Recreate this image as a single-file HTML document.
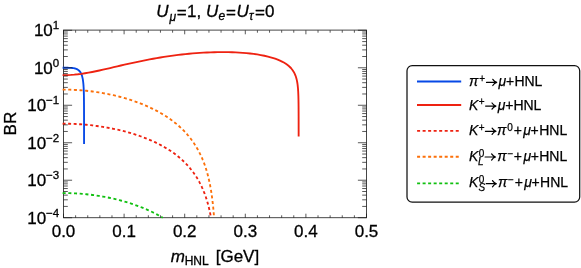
<!DOCTYPE html>
<html><head><meta charset="utf-8"><title>BR plot</title>
<style>html,body{margin:0;padding:0;background:#fff}svg{display:block;will-change:transform;transform:translateZ(0)}</style></head>
<body>
<svg width="581" height="268" viewBox="0 0 581 268">
<rect width="581" height="268" fill="#fff"/>
<rect x="63.5" y="30.1" width="303.00" height="187.60" fill="none" stroke="#333" stroke-width="0.9"/>
<g fill="none" stroke-linejoin="round">
<path d="M62.60 193.07 L63.50 193.07 L65.57 193.08 L67.65 193.11 L69.72 193.16 L71.80 193.23 L73.87 193.32 L75.94 193.43 L78.02 193.55 L80.09 193.70 L82.16 193.87 L84.24 194.05 L86.31 194.25 L88.39 194.48 L90.46 194.72 L92.53 194.98 L94.61 195.26 L96.68 195.56 L98.75 195.88 L100.83 196.22 L102.90 196.58 L104.98 196.95 L107.05 197.35 L109.12 197.77 L111.20 198.21 L113.27 198.67 L115.35 199.16 L117.42 199.66 L119.49 200.19 L121.57 200.74 L123.64 201.31 L125.71 201.91 L127.79 202.53 L129.86 203.18 L131.94 203.86 L134.01 204.56 L136.08 205.28 L138.16 206.04 L140.23 206.83 L142.31 207.65 L144.38 208.50 L146.45 209.38 L148.53 210.30 L150.60 211.26 L152.67 212.26 L154.75 213.30 L156.82 214.38 L158.90 215.50 L160.97 216.68 L162.69 217.70" stroke="#10c010" stroke-width="1.85" stroke-dasharray="3.063 2.634"/>
<path d="M62.60 89.61 L63.50 89.61 L65.57 89.62 L67.65 89.65 L69.72 89.70 L71.80 89.77 L73.87 89.86 L75.94 89.97 L78.02 90.09 L80.09 90.24 L82.16 90.40 L84.24 90.59 L86.31 90.79 L88.39 91.02 L90.46 91.26 L92.53 91.52 L94.61 91.80 L96.68 92.10 L98.75 92.42 L100.83 92.76 L102.90 93.12 L104.98 93.49 L107.05 93.89 L109.12 94.31 L111.20 94.75 L113.27 95.21 L115.35 95.70 L117.42 96.20 L119.49 96.73 L121.57 97.28 L123.64 97.85 L125.71 98.45 L127.79 99.07 L129.86 99.72 L131.94 100.39 L134.01 101.10 L136.08 101.82 L138.16 102.58 L140.23 103.37 L142.31 104.19 L144.38 105.04 L146.45 105.92 L148.53 106.84 L150.60 107.80 L152.67 108.80 L154.75 109.84 L156.82 110.92 L158.90 112.04 L160.97 113.22 L163.04 114.45 L165.12 115.73 L167.19 117.08 L169.26 118.48 L171.34 119.96 L173.41 121.51 L175.49 123.15 L177.56 124.87 L179.63 126.70 L181.71 128.63 L183.78 130.69 L185.86 132.88 L186.01 133.05 L186.16 133.22 L186.32 133.39 L186.47 133.56 L186.62 133.74 L186.78 133.91 L186.93 134.08 L187.08 134.26 L187.24 134.43 L187.39 134.61 L187.55 134.79 L187.70 134.97 L187.85 135.15 L188.01 135.33 L188.16 135.51 L188.31 135.69 L188.47 135.87 L188.62 136.06 L188.78 136.24 L188.93 136.43 L189.08 136.62 L189.24 136.81 L189.39 137.00 L189.54 137.19 L189.70 137.38 L189.85 137.57 L190.01 137.77 L190.16 137.96 L190.31 138.16 L190.47 138.36 L190.62 138.56 L190.77 138.76 L190.93 138.96 L191.08 139.16 L191.24 139.37 L191.39 139.57 L191.54 139.78 L191.70 139.98 L191.85 140.19 L192.00 140.40 L192.16 140.61 L192.31 140.83 L192.46 141.04 L192.62 141.26 L192.77 141.47 L192.93 141.69 L193.08 141.91 L193.23 142.13 L193.39 142.36 L193.54 142.58 L193.69 142.81 L193.85 143.03 L194.00 143.26 L194.16 143.49 L194.31 143.72 L194.46 143.96 L194.62 144.19 L194.77 144.43 L194.92 144.67 L195.08 144.91 L195.23 145.15 L195.39 145.39 L195.54 145.64 L195.69 145.89 L195.85 146.13 L196.00 146.39 L196.15 146.64 L196.31 146.89 L196.46 147.15 L196.62 147.41 L196.77 147.67 L196.92 147.93 L197.08 148.20 L197.23 148.46 L197.38 148.73 L197.54 149.00 L197.69 149.28 L197.84 149.55 L198.00 149.83 L198.15 150.11 L198.31 150.39 L198.46 150.68 L198.61 150.96 L198.77 151.25 L198.92 151.54 L199.07 151.84 L199.23 152.14 L199.38 152.44 L199.54 152.74 L199.69 153.04 L199.84 153.35 L200.00 153.66 L200.15 153.98 L200.30 154.29 L200.46 154.61 L200.61 154.93 L200.77 155.26 L200.92 155.59 L201.07 155.92 L201.23 156.26 L201.38 156.60 L201.53 156.94 L201.69 157.28 L201.84 157.63 L202.00 157.99 L202.15 158.34 L202.30 158.70 L202.46 159.07 L202.61 159.44 L202.76 159.81 L202.92 160.18 L203.07 160.56 L203.22 160.95 L203.38 161.34 L203.53 161.73 L203.69 162.13 L203.84 162.54 L203.99 162.94 L204.15 163.36 L204.30 163.78 L204.45 164.20 L204.61 164.63 L204.76 165.06 L204.92 165.50 L205.07 165.95 L205.22 166.40 L205.38 166.86 L205.53 167.32 L205.68 167.80 L205.84 168.27 L205.99 168.76 L206.15 169.25 L206.30 169.75 L206.45 170.26 L206.61 170.77 L206.76 171.29 L206.91 171.82 L207.07 172.36 L207.22 172.91 L207.38 173.47 L207.53 174.03 L207.68 174.61 L207.84 175.19 L207.99 175.79 L208.14 176.40 L208.30 177.02 L208.45 177.65 L208.60 178.29 L208.76 178.94 L208.91 179.61 L209.07 180.29 L209.22 180.99 L209.37 181.70 L209.53 182.42 L209.68 183.17 L209.83 183.93 L209.99 184.70 L210.14 185.50 L210.30 186.31 L210.45 187.15 L210.60 188.00 L210.76 188.88 L210.91 189.78 L211.06 190.71 L211.22 191.67 L211.37 192.65 L211.53 193.66 L211.68 194.71 L211.83 195.78 L211.99 196.90 L212.14 198.05 L212.29 199.25 L212.45 200.49 L212.60 201.77 L212.75 203.11 L212.91 204.51 L213.06 205.97 L213.22 207.49 L213.37 209.09 L213.52 210.77 L213.68 212.55 L213.83 214.42 L213.98 216.40 L214.08 217.70" stroke="#fc700a" stroke-width="1.85" stroke-dasharray="3.030 2.606"/>
<path d="M62.60 123.71 L63.50 123.71 L65.58 123.71 L67.66 123.74 L69.74 123.79 L71.82 123.85 L73.90 123.93 L75.98 124.03 L78.05 124.14 L80.13 124.28 L82.21 124.43 L84.29 124.59 L86.37 124.78 L88.45 124.98 L90.53 125.20 L92.61 125.44 L94.69 125.69 L96.77 125.97 L98.85 126.26 L100.93 126.56 L103.01 126.89 L105.08 127.23 L107.16 127.60 L109.24 127.98 L111.32 128.38 L113.40 128.80 L115.48 129.24 L117.56 129.70 L119.64 130.18 L121.72 130.68 L123.80 131.20 L125.88 131.75 L127.96 132.32 L130.04 132.91 L132.11 133.53 L134.19 134.17 L136.27 134.83 L138.35 135.53 L140.43 136.25 L142.51 137.00 L144.59 137.79 L146.67 138.60 L148.75 139.45 L150.83 140.33 L152.91 141.25 L154.99 142.21 L157.07 143.22 L159.14 144.26 L161.22 145.36 L163.30 146.50 L165.38 147.70 L167.46 148.95 L169.54 150.27 L171.62 151.66 L173.70 153.11 L175.78 154.65 L177.86 156.28 L179.94 158.01 L182.02 159.84 L184.10 161.79 L186.17 163.88 L186.33 164.05 L186.48 164.21 L186.64 164.37 L186.79 164.53 L186.95 164.70 L187.10 164.86 L187.25 165.03 L187.41 165.20 L187.56 165.36 L187.72 165.53 L187.87 165.70 L188.02 165.87 L188.18 166.05 L188.33 166.22 L188.49 166.39 L188.64 166.57 L188.79 166.74 L188.95 166.92 L189.10 167.10 L189.26 167.27 L189.41 167.45 L189.57 167.64 L189.72 167.82 L189.87 168.00 L190.03 168.18 L190.18 168.37 L190.34 168.56 L190.49 168.74 L190.64 168.93 L190.80 169.12 L190.95 169.31 L191.11 169.50 L191.26 169.70 L191.41 169.89 L191.57 170.09 L191.72 170.28 L191.88 170.48 L192.03 170.68 L192.19 170.88 L192.34 171.08 L192.49 171.29 L192.65 171.49 L192.80 171.70 L192.96 171.91 L193.11 172.11 L193.26 172.32 L193.42 172.54 L193.57 172.75 L193.73 172.96 L193.88 173.18 L194.03 173.40 L194.19 173.61 L194.34 173.84 L194.50 174.06 L194.65 174.28 L194.81 174.51 L194.96 174.73 L195.11 174.96 L195.27 175.19 L195.42 175.42 L195.58 175.66 L195.73 175.89 L195.88 176.13 L196.04 176.37 L196.19 176.61 L196.35 176.85 L196.50 177.09 L196.65 177.34 L196.81 177.59 L196.96 177.84 L197.12 178.09 L197.27 178.34 L197.43 178.60 L197.58 178.86 L197.73 179.12 L197.89 179.38 L198.04 179.65 L198.20 179.91 L198.35 180.18 L198.50 180.45 L198.66 180.73 L198.81 181.00 L198.97 181.28 L199.12 181.56 L199.27 181.85 L199.43 182.13 L199.58 182.42 L199.74 182.71 L199.89 183.01 L200.05 183.30 L200.20 183.60 L200.35 183.90 L200.51 184.21 L200.66 184.52 L200.82 184.83 L200.97 185.14 L201.12 185.46 L201.28 185.78 L201.43 186.10 L201.59 186.43 L201.74 186.76 L201.89 187.09 L202.05 187.43 L202.20 187.77 L202.36 188.11 L202.51 188.46 L202.66 188.81 L202.82 189.17 L202.97 189.53 L203.13 189.89 L203.28 190.26 L203.44 190.63 L203.59 191.01 L203.74 191.39 L203.90 191.77 L204.05 192.16 L204.21 192.56 L204.36 192.96 L204.51 193.36 L204.67 193.77 L204.82 194.18 L204.98 194.60 L205.13 195.03 L205.28 195.46 L205.44 195.90 L205.59 196.34 L205.75 196.79 L205.90 197.25 L206.06 197.71 L206.21 198.18 L206.36 198.65 L206.52 199.13 L206.67 199.62 L206.83 200.12 L206.98 200.63 L207.13 201.14 L207.29 201.66 L207.44 202.19 L207.60 202.73 L207.75 203.28 L207.90 203.84 L208.06 204.40 L208.21 204.98 L208.37 205.57 L208.52 206.16 L208.68 206.77 L208.83 207.39 L208.98 208.03 L209.14 208.67 L209.29 209.33 L209.45 210.00 L209.60 210.69 L209.75 211.39 L209.91 212.11 L210.06 212.84 L210.22 213.59 L210.37 214.36 L210.52 215.14 L210.68 215.95 L210.83 216.77 L210.99 217.62 L211.00 217.70" stroke="#ee2211" stroke-width="1.85" stroke-dasharray="2.972 2.556"/>
<path d="M62.60 67.78 L63.50 67.78 L63.81 67.78 L64.13 67.78 L64.44 67.78 L64.75 67.78 L65.07 67.78 L65.38 67.78 L65.69 67.78 L66.01 67.78 L66.32 67.78 L66.63 67.78 L66.95 67.78 L67.26 67.78 L67.58 67.79 L67.89 67.79 L68.20 67.79 L68.52 67.80 L68.83 67.80 L69.14 67.81 L69.46 67.82 L69.77 67.83 L70.08 67.84 L70.40 67.85 L70.71 67.87 L71.02 67.89 L71.34 67.91 L71.65 67.93 L71.96 67.96 L72.28 67.99 L72.59 68.02 L72.90 68.06 L73.22 68.10 L73.53 68.15 L73.84 68.21 L74.16 68.27 L74.47 68.33 L74.79 68.41 L75.10 68.49 L75.41 68.58 L75.73 68.68 L76.04 68.79 L76.35 68.91 L76.67 69.04 L76.98 69.19 L77.29 69.35 L77.61 69.53 L77.92 69.72 L78.23 69.94 L78.55 70.18 L78.86 70.45 L79.17 70.74 L79.49 71.07 L79.80 71.43 L80.11 71.84 L80.43 72.30 L80.74 72.82 L81.06 73.42 L81.37 74.10 L81.68 74.89 L82.00 75.83 L82.00 75.83 L82.22 76.62 L82.42 77.42 L82.60 78.24 L82.76 79.08 L82.90 79.93 L83.03 80.78 L83.14 81.65 L83.24 82.52 L83.33 83.41 L83.41 84.30 L83.48 85.19 L83.54 86.09 L83.60 87.00 L83.65 87.91 L83.69 88.82 L83.73 89.74 L83.77 90.66 L83.80 91.58 L83.82 92.51 L83.85 93.44 L83.87 94.37 L83.89 95.30 L83.91 96.23 L83.92 97.16 L83.94 98.10 L83.95 99.04 L83.96 99.97 L83.97 100.91 L83.98 101.85 L83.99 102.79 L83.99 103.73 L84.00 104.67 L84.01 105.61 L84.01 106.55 L84.02 107.49 L84.02 108.44 L84.02 109.38 L84.03 110.32 L84.03 111.26 L84.03 112.21 L84.03 113.15 L84.03 114.09 L84.04 115.04 L84.04 115.98 L84.04 116.93 L84.04 117.87 L84.04 118.81 L84.04 119.76 L84.04 120.70 L84.04 121.65 L84.05 122.59 L84.05 123.54 L84.05 124.48 L84.05 125.42 L84.05 126.37 L84.05 127.31 L84.05 128.26 L84.05 129.20 L84.05 130.15 L84.05 131.09 L84.05 132.04 L84.05 132.98 L84.05 133.93 L84.05 134.87 L84.05 135.82 L84.05 136.76 L84.05 137.71 L84.05 138.65 L84.05 139.59 L84.05 140.54 L84.05 141.48 L84.05 142.43 L84.05 143.37 L84.05 144.00" stroke="#0648e6" stroke-width="1.85"/>
<path d="M62.60 75.16 L63.50 75.16 L67.09 75.10 L70.67 74.94 L74.26 74.66 L77.85 74.29 L81.43 73.83 L85.02 73.28 L88.61 72.67 L92.19 71.99 L95.78 71.26 L99.37 70.49 L102.96 69.69 L106.54 68.87 L110.13 68.04 L113.72 67.20 L117.30 66.35 L120.89 65.52 L124.48 64.69 L128.06 63.87 L131.65 63.08 L135.24 62.30 L138.82 61.54 L142.41 60.80 L146.00 60.09 L149.58 59.41 L153.17 58.75 L156.76 58.12 L160.35 57.51 L163.93 56.94 L167.52 56.40 L171.11 55.88 L174.69 55.40 L178.28 54.94 L181.87 54.52 L185.45 54.13 L189.04 53.77 L192.63 53.45 L196.21 53.15 L199.80 52.89 L203.39 52.67 L206.97 52.48 L210.56 52.32 L214.15 52.21 L217.74 52.13 L221.32 52.09 L224.91 52.09 L228.50 52.14 L232.08 52.23 L235.67 52.37 L239.26 52.56 L242.84 52.80 L246.43 53.11 L250.02 53.47 L253.60 53.91 L257.19 54.43 L260.78 55.04 L264.36 55.74 L267.95 56.57 L271.54 57.54 L275.13 58.68 L275.13 58.68 L277.70 59.63 L280.00 60.60 L282.04 61.58 L283.86 62.56 L285.48 63.55 L286.92 64.54 L288.21 65.53 L289.35 66.51 L290.37 67.50 L291.28 68.49 L292.08 69.47 L292.80 70.45 L293.44 71.43 L294.01 72.40 L294.52 73.37 L294.97 74.34 L295.37 75.31 L295.73 76.28 L296.05 77.24 L296.33 78.20 L296.59 79.16 L296.81 80.12 L297.01 81.08 L297.19 82.04 L297.35 82.99 L297.49 83.95 L297.62 84.90 L297.73 85.85 L297.83 86.80 L297.92 87.75 L298.00 88.70 L298.07 89.65 L298.13 90.60 L298.19 91.55 L298.24 92.50 L298.28 93.45 L298.32 94.39 L298.35 95.34 L298.39 96.29 L298.41 97.24 L298.44 98.18 L298.46 99.13 L298.48 100.08 L298.50 101.02 L298.51 101.97 L298.53 102.91 L298.54 103.86 L298.55 104.80 L298.56 105.75 L298.57 106.70 L298.58 107.64 L298.58 108.59 L298.59 109.53 L298.59 110.48 L298.60 111.42 L298.60 112.37 L298.61 113.31 L298.61 114.26 L298.61 115.20 L298.62 116.15 L298.62 117.09 L298.62 118.04 L298.62 118.98 L298.63 119.93 L298.63 120.87 L298.63 121.82 L298.63 122.76 L298.63 123.71 L298.63 124.65 L298.63 125.60 L298.63 126.54 L298.63 127.49 L298.63 128.43 L298.64 129.38 L298.64 130.32 L298.64 131.27 L298.64 132.21 L298.64 133.16 L298.64 134.10 L298.64 135.05 L298.64 135.99 L298.64 136.50" stroke="#ee2211" stroke-width="1.85"/>
</g>
<line x1="63.50" y1="217.70" x2="63.50" y2="213.70" stroke="#181818" stroke-width="0.72"/>
<line x1="63.50" y1="30.30" x2="63.50" y2="34.30" stroke="#181818" stroke-width="0.72"/>
<line x1="75.62" y1="217.70" x2="75.62" y2="215.30" stroke="#181818" stroke-width="0.72"/>
<line x1="75.62" y1="30.30" x2="75.62" y2="32.70" stroke="#181818" stroke-width="0.72"/>
<line x1="87.74" y1="217.70" x2="87.74" y2="215.30" stroke="#181818" stroke-width="0.72"/>
<line x1="87.74" y1="30.30" x2="87.74" y2="32.70" stroke="#181818" stroke-width="0.72"/>
<line x1="99.86" y1="217.70" x2="99.86" y2="215.30" stroke="#181818" stroke-width="0.72"/>
<line x1="99.86" y1="30.30" x2="99.86" y2="32.70" stroke="#181818" stroke-width="0.72"/>
<line x1="111.98" y1="217.70" x2="111.98" y2="215.30" stroke="#181818" stroke-width="0.72"/>
<line x1="111.98" y1="30.30" x2="111.98" y2="32.70" stroke="#181818" stroke-width="0.72"/>
<line x1="124.10" y1="217.70" x2="124.10" y2="213.70" stroke="#181818" stroke-width="0.72"/>
<line x1="124.10" y1="30.30" x2="124.10" y2="34.30" stroke="#181818" stroke-width="0.72"/>
<line x1="136.22" y1="217.70" x2="136.22" y2="215.30" stroke="#181818" stroke-width="0.72"/>
<line x1="136.22" y1="30.30" x2="136.22" y2="32.70" stroke="#181818" stroke-width="0.72"/>
<line x1="148.34" y1="217.70" x2="148.34" y2="215.30" stroke="#181818" stroke-width="0.72"/>
<line x1="148.34" y1="30.30" x2="148.34" y2="32.70" stroke="#181818" stroke-width="0.72"/>
<line x1="160.46" y1="217.70" x2="160.46" y2="215.30" stroke="#181818" stroke-width="0.72"/>
<line x1="160.46" y1="30.30" x2="160.46" y2="32.70" stroke="#181818" stroke-width="0.72"/>
<line x1="172.58" y1="217.70" x2="172.58" y2="215.30" stroke="#181818" stroke-width="0.72"/>
<line x1="172.58" y1="30.30" x2="172.58" y2="32.70" stroke="#181818" stroke-width="0.72"/>
<line x1="184.70" y1="217.70" x2="184.70" y2="213.70" stroke="#181818" stroke-width="0.72"/>
<line x1="184.70" y1="30.30" x2="184.70" y2="34.30" stroke="#181818" stroke-width="0.72"/>
<line x1="196.82" y1="217.70" x2="196.82" y2="215.30" stroke="#181818" stroke-width="0.72"/>
<line x1="196.82" y1="30.30" x2="196.82" y2="32.70" stroke="#181818" stroke-width="0.72"/>
<line x1="208.94" y1="217.70" x2="208.94" y2="215.30" stroke="#181818" stroke-width="0.72"/>
<line x1="208.94" y1="30.30" x2="208.94" y2="32.70" stroke="#181818" stroke-width="0.72"/>
<line x1="221.06" y1="217.70" x2="221.06" y2="215.30" stroke="#181818" stroke-width="0.72"/>
<line x1="221.06" y1="30.30" x2="221.06" y2="32.70" stroke="#181818" stroke-width="0.72"/>
<line x1="233.18" y1="217.70" x2="233.18" y2="215.30" stroke="#181818" stroke-width="0.72"/>
<line x1="233.18" y1="30.30" x2="233.18" y2="32.70" stroke="#181818" stroke-width="0.72"/>
<line x1="245.30" y1="217.70" x2="245.30" y2="213.70" stroke="#181818" stroke-width="0.72"/>
<line x1="245.30" y1="30.30" x2="245.30" y2="34.30" stroke="#181818" stroke-width="0.72"/>
<line x1="257.42" y1="217.70" x2="257.42" y2="215.30" stroke="#181818" stroke-width="0.72"/>
<line x1="257.42" y1="30.30" x2="257.42" y2="32.70" stroke="#181818" stroke-width="0.72"/>
<line x1="269.54" y1="217.70" x2="269.54" y2="215.30" stroke="#181818" stroke-width="0.72"/>
<line x1="269.54" y1="30.30" x2="269.54" y2="32.70" stroke="#181818" stroke-width="0.72"/>
<line x1="281.66" y1="217.70" x2="281.66" y2="215.30" stroke="#181818" stroke-width="0.72"/>
<line x1="281.66" y1="30.30" x2="281.66" y2="32.70" stroke="#181818" stroke-width="0.72"/>
<line x1="293.78" y1="217.70" x2="293.78" y2="215.30" stroke="#181818" stroke-width="0.72"/>
<line x1="293.78" y1="30.30" x2="293.78" y2="32.70" stroke="#181818" stroke-width="0.72"/>
<line x1="305.90" y1="217.70" x2="305.90" y2="213.70" stroke="#181818" stroke-width="0.72"/>
<line x1="305.90" y1="30.30" x2="305.90" y2="34.30" stroke="#181818" stroke-width="0.72"/>
<line x1="318.02" y1="217.70" x2="318.02" y2="215.30" stroke="#181818" stroke-width="0.72"/>
<line x1="318.02" y1="30.30" x2="318.02" y2="32.70" stroke="#181818" stroke-width="0.72"/>
<line x1="330.14" y1="217.70" x2="330.14" y2="215.30" stroke="#181818" stroke-width="0.72"/>
<line x1="330.14" y1="30.30" x2="330.14" y2="32.70" stroke="#181818" stroke-width="0.72"/>
<line x1="342.26" y1="217.70" x2="342.26" y2="215.30" stroke="#181818" stroke-width="0.72"/>
<line x1="342.26" y1="30.30" x2="342.26" y2="32.70" stroke="#181818" stroke-width="0.72"/>
<line x1="354.38" y1="217.70" x2="354.38" y2="215.30" stroke="#181818" stroke-width="0.72"/>
<line x1="354.38" y1="30.30" x2="354.38" y2="32.70" stroke="#181818" stroke-width="0.72"/>
<line x1="366.50" y1="217.70" x2="366.50" y2="213.70" stroke="#181818" stroke-width="0.72"/>
<line x1="366.50" y1="30.30" x2="366.50" y2="34.30" stroke="#181818" stroke-width="0.72"/>
<line x1="63.50" y1="217.70" x2="72.10" y2="217.70" stroke="#181818" stroke-width="0.72"/>
<line x1="366.50" y1="217.70" x2="357.90" y2="217.70" stroke="#181818" stroke-width="0.72"/>
<line x1="63.50" y1="206.42" x2="67.80" y2="206.42" stroke="#181818" stroke-width="0.72"/>
<line x1="366.50" y1="206.42" x2="362.20" y2="206.42" stroke="#181818" stroke-width="0.72"/>
<line x1="63.50" y1="199.82" x2="67.80" y2="199.82" stroke="#181818" stroke-width="0.72"/>
<line x1="366.50" y1="199.82" x2="362.20" y2="199.82" stroke="#181818" stroke-width="0.72"/>
<line x1="63.50" y1="195.13" x2="67.80" y2="195.13" stroke="#181818" stroke-width="0.72"/>
<line x1="366.50" y1="195.13" x2="362.20" y2="195.13" stroke="#181818" stroke-width="0.72"/>
<line x1="63.50" y1="191.50" x2="67.80" y2="191.50" stroke="#181818" stroke-width="0.72"/>
<line x1="366.50" y1="191.50" x2="362.20" y2="191.50" stroke="#181818" stroke-width="0.72"/>
<line x1="63.50" y1="188.53" x2="67.80" y2="188.53" stroke="#181818" stroke-width="0.72"/>
<line x1="366.50" y1="188.53" x2="362.20" y2="188.53" stroke="#181818" stroke-width="0.72"/>
<line x1="63.50" y1="186.03" x2="67.80" y2="186.03" stroke="#181818" stroke-width="0.72"/>
<line x1="366.50" y1="186.03" x2="362.20" y2="186.03" stroke="#181818" stroke-width="0.72"/>
<line x1="63.50" y1="183.85" x2="67.80" y2="183.85" stroke="#181818" stroke-width="0.72"/>
<line x1="366.50" y1="183.85" x2="362.20" y2="183.85" stroke="#181818" stroke-width="0.72"/>
<line x1="63.50" y1="181.93" x2="67.80" y2="181.93" stroke="#181818" stroke-width="0.72"/>
<line x1="366.50" y1="181.93" x2="362.20" y2="181.93" stroke="#181818" stroke-width="0.72"/>
<line x1="63.50" y1="180.22" x2="72.10" y2="180.22" stroke="#181818" stroke-width="0.72"/>
<line x1="366.50" y1="180.22" x2="357.90" y2="180.22" stroke="#181818" stroke-width="0.72"/>
<line x1="63.50" y1="168.94" x2="67.80" y2="168.94" stroke="#181818" stroke-width="0.72"/>
<line x1="366.50" y1="168.94" x2="362.20" y2="168.94" stroke="#181818" stroke-width="0.72"/>
<line x1="63.50" y1="162.34" x2="67.80" y2="162.34" stroke="#181818" stroke-width="0.72"/>
<line x1="366.50" y1="162.34" x2="362.20" y2="162.34" stroke="#181818" stroke-width="0.72"/>
<line x1="63.50" y1="157.65" x2="67.80" y2="157.65" stroke="#181818" stroke-width="0.72"/>
<line x1="366.50" y1="157.65" x2="362.20" y2="157.65" stroke="#181818" stroke-width="0.72"/>
<line x1="63.50" y1="154.02" x2="67.80" y2="154.02" stroke="#181818" stroke-width="0.72"/>
<line x1="366.50" y1="154.02" x2="362.20" y2="154.02" stroke="#181818" stroke-width="0.72"/>
<line x1="63.50" y1="151.05" x2="67.80" y2="151.05" stroke="#181818" stroke-width="0.72"/>
<line x1="366.50" y1="151.05" x2="362.20" y2="151.05" stroke="#181818" stroke-width="0.72"/>
<line x1="63.50" y1="148.55" x2="67.80" y2="148.55" stroke="#181818" stroke-width="0.72"/>
<line x1="366.50" y1="148.55" x2="362.20" y2="148.55" stroke="#181818" stroke-width="0.72"/>
<line x1="63.50" y1="146.37" x2="67.80" y2="146.37" stroke="#181818" stroke-width="0.72"/>
<line x1="366.50" y1="146.37" x2="362.20" y2="146.37" stroke="#181818" stroke-width="0.72"/>
<line x1="63.50" y1="144.45" x2="67.80" y2="144.45" stroke="#181818" stroke-width="0.72"/>
<line x1="366.50" y1="144.45" x2="362.20" y2="144.45" stroke="#181818" stroke-width="0.72"/>
<line x1="63.50" y1="142.74" x2="72.10" y2="142.74" stroke="#181818" stroke-width="0.72"/>
<line x1="366.50" y1="142.74" x2="357.90" y2="142.74" stroke="#181818" stroke-width="0.72"/>
<line x1="63.50" y1="131.46" x2="67.80" y2="131.46" stroke="#181818" stroke-width="0.72"/>
<line x1="366.50" y1="131.46" x2="362.20" y2="131.46" stroke="#181818" stroke-width="0.72"/>
<line x1="63.50" y1="124.86" x2="67.80" y2="124.86" stroke="#181818" stroke-width="0.72"/>
<line x1="366.50" y1="124.86" x2="362.20" y2="124.86" stroke="#181818" stroke-width="0.72"/>
<line x1="63.50" y1="120.17" x2="67.80" y2="120.17" stroke="#181818" stroke-width="0.72"/>
<line x1="366.50" y1="120.17" x2="362.20" y2="120.17" stroke="#181818" stroke-width="0.72"/>
<line x1="63.50" y1="116.54" x2="67.80" y2="116.54" stroke="#181818" stroke-width="0.72"/>
<line x1="366.50" y1="116.54" x2="362.20" y2="116.54" stroke="#181818" stroke-width="0.72"/>
<line x1="63.50" y1="113.57" x2="67.80" y2="113.57" stroke="#181818" stroke-width="0.72"/>
<line x1="366.50" y1="113.57" x2="362.20" y2="113.57" stroke="#181818" stroke-width="0.72"/>
<line x1="63.50" y1="111.07" x2="67.80" y2="111.07" stroke="#181818" stroke-width="0.72"/>
<line x1="366.50" y1="111.07" x2="362.20" y2="111.07" stroke="#181818" stroke-width="0.72"/>
<line x1="63.50" y1="108.89" x2="67.80" y2="108.89" stroke="#181818" stroke-width="0.72"/>
<line x1="366.50" y1="108.89" x2="362.20" y2="108.89" stroke="#181818" stroke-width="0.72"/>
<line x1="63.50" y1="106.97" x2="67.80" y2="106.97" stroke="#181818" stroke-width="0.72"/>
<line x1="366.50" y1="106.97" x2="362.20" y2="106.97" stroke="#181818" stroke-width="0.72"/>
<line x1="63.50" y1="105.26" x2="72.10" y2="105.26" stroke="#181818" stroke-width="0.72"/>
<line x1="366.50" y1="105.26" x2="357.90" y2="105.26" stroke="#181818" stroke-width="0.72"/>
<line x1="63.50" y1="93.98" x2="67.80" y2="93.98" stroke="#181818" stroke-width="0.72"/>
<line x1="366.50" y1="93.98" x2="362.20" y2="93.98" stroke="#181818" stroke-width="0.72"/>
<line x1="63.50" y1="87.38" x2="67.80" y2="87.38" stroke="#181818" stroke-width="0.72"/>
<line x1="366.50" y1="87.38" x2="362.20" y2="87.38" stroke="#181818" stroke-width="0.72"/>
<line x1="63.50" y1="82.69" x2="67.80" y2="82.69" stroke="#181818" stroke-width="0.72"/>
<line x1="366.50" y1="82.69" x2="362.20" y2="82.69" stroke="#181818" stroke-width="0.72"/>
<line x1="63.50" y1="79.06" x2="67.80" y2="79.06" stroke="#181818" stroke-width="0.72"/>
<line x1="366.50" y1="79.06" x2="362.20" y2="79.06" stroke="#181818" stroke-width="0.72"/>
<line x1="63.50" y1="76.09" x2="67.80" y2="76.09" stroke="#181818" stroke-width="0.72"/>
<line x1="366.50" y1="76.09" x2="362.20" y2="76.09" stroke="#181818" stroke-width="0.72"/>
<line x1="63.50" y1="73.59" x2="67.80" y2="73.59" stroke="#181818" stroke-width="0.72"/>
<line x1="366.50" y1="73.59" x2="362.20" y2="73.59" stroke="#181818" stroke-width="0.72"/>
<line x1="63.50" y1="71.41" x2="67.80" y2="71.41" stroke="#181818" stroke-width="0.72"/>
<line x1="366.50" y1="71.41" x2="362.20" y2="71.41" stroke="#181818" stroke-width="0.72"/>
<line x1="63.50" y1="69.49" x2="67.80" y2="69.49" stroke="#181818" stroke-width="0.72"/>
<line x1="366.50" y1="69.49" x2="362.20" y2="69.49" stroke="#181818" stroke-width="0.72"/>
<line x1="63.50" y1="67.78" x2="72.10" y2="67.78" stroke="#181818" stroke-width="0.72"/>
<line x1="366.50" y1="67.78" x2="357.90" y2="67.78" stroke="#181818" stroke-width="0.72"/>
<line x1="63.50" y1="56.50" x2="67.80" y2="56.50" stroke="#181818" stroke-width="0.72"/>
<line x1="366.50" y1="56.50" x2="362.20" y2="56.50" stroke="#181818" stroke-width="0.72"/>
<line x1="63.50" y1="49.90" x2="67.80" y2="49.90" stroke="#181818" stroke-width="0.72"/>
<line x1="366.50" y1="49.90" x2="362.20" y2="49.90" stroke="#181818" stroke-width="0.72"/>
<line x1="63.50" y1="45.21" x2="67.80" y2="45.21" stroke="#181818" stroke-width="0.72"/>
<line x1="366.50" y1="45.21" x2="362.20" y2="45.21" stroke="#181818" stroke-width="0.72"/>
<line x1="63.50" y1="41.58" x2="67.80" y2="41.58" stroke="#181818" stroke-width="0.72"/>
<line x1="366.50" y1="41.58" x2="362.20" y2="41.58" stroke="#181818" stroke-width="0.72"/>
<line x1="63.50" y1="38.61" x2="67.80" y2="38.61" stroke="#181818" stroke-width="0.72"/>
<line x1="366.50" y1="38.61" x2="362.20" y2="38.61" stroke="#181818" stroke-width="0.72"/>
<line x1="63.50" y1="36.11" x2="67.80" y2="36.11" stroke="#181818" stroke-width="0.72"/>
<line x1="366.50" y1="36.11" x2="362.20" y2="36.11" stroke="#181818" stroke-width="0.72"/>
<line x1="63.50" y1="33.93" x2="67.80" y2="33.93" stroke="#181818" stroke-width="0.72"/>
<line x1="366.50" y1="33.93" x2="362.20" y2="33.93" stroke="#181818" stroke-width="0.72"/>
<line x1="63.50" y1="32.01" x2="67.80" y2="32.01" stroke="#181818" stroke-width="0.72"/>
<line x1="366.50" y1="32.01" x2="362.20" y2="32.01" stroke="#181818" stroke-width="0.72"/>
<line x1="63.50" y1="30.30" x2="72.10" y2="30.30" stroke="#181818" stroke-width="0.72"/>
<line x1="366.50" y1="30.30" x2="357.90" y2="30.30" stroke="#181818" stroke-width="0.72"/>
<g font-family="Liberation Sans, sans-serif" fill="#000" stroke="#000" stroke-width="0.3" font-size="17">
<text x="63.50" y="237.2" text-anchor="middle">0.0</text>
<text x="124.10" y="237.2" text-anchor="middle">0.1</text>
<text x="184.70" y="237.2" text-anchor="middle">0.2</text>
<text x="245.30" y="237.2" text-anchor="middle">0.3</text>
<text x="305.90" y="237.2" text-anchor="middle">0.4</text>
<text x="366.50" y="237.2" text-anchor="middle">0.5</text>
<text x="27.2" y="223.70">10<tspan font-size="11.5" dy="-6.9">−4</tspan></text>
<text x="27.2" y="186.22">10<tspan font-size="11.5" dy="-6.9">−3</tspan></text>
<text x="27.2" y="148.74">10<tspan font-size="11.5" dy="-6.9">−2</tspan></text>
<text x="27.2" y="111.26">10<tspan font-size="11.5" dy="-6.9">−1</tspan></text>
<text x="33.9" y="73.78">10<tspan font-size="11.5" dy="-6.9">0</tspan></text>
<text x="33.9" y="36.30">10<tspan font-size="11.5" dy="-6.9">1</tspan></text>
<text><tspan x="156.2" y="17.2" font-style="italic">U</tspan><tspan x="169.45" y="20.8" font-style="italic" font-size="12">μ</tspan><tspan x="176.8" y="18.4">=</tspan><tspan x="186.9" y="17.2">1</tspan><tspan x="196.5" y="17.2">,</tspan><tspan x="206.1" y="17.2" font-style="italic">U</tspan><tspan x="218.6" y="19.900000000000002" font-style="italic" font-size="12">e</tspan><tspan x="226.0" y="18.4">=</tspan><tspan x="236.4" y="17.2" font-style="italic">U</tspan><tspan x="249.0" y="19.900000000000002" font-style="italic" font-size="12">τ</tspan><tspan x="254.9" y="18.4">=</tspan><tspan x="264.9" y="17.2">0</tspan></text>
<text><tspan x="170.7" y="262.4" font-style="italic">m</tspan><tspan x="184.7" y="264.9" font-size="12">HNL</tspan><tspan x="215.7" y="262.4">[GeV]</tspan></text>
<text transform="translate(16.2,123.6) rotate(-90)" text-anchor="middle">BR</text>
</g>
<rect x="407.0" y="65.6" width="172.7" height="136.5" rx="5.2" ry="5.2" fill="#fff" stroke="#111" stroke-width="1.25"/>
<line x1="417" y1="81.5" x2="461.2" y2="81.5" stroke="#0648e6" stroke-width="1.85"/>
<line x1="417" y1="105.0" x2="461.2" y2="105.0" stroke="#ee2211" stroke-width="1.85"/>
<line x1="417.1" y1="130.8" x2="459.2" y2="130.8" stroke="#ee2211" stroke-width="1.85" stroke-dasharray="3 2.52"/>
<line x1="417.1" y1="156.7" x2="459.2" y2="156.7" stroke="#fc700a" stroke-width="1.85" stroke-dasharray="3 2.52"/>
<line x1="417.1" y1="183.3" x2="459.2" y2="183.3" stroke="#10c010" stroke-width="1.85" stroke-dasharray="3 2.52"/>
<g font-family="Liberation Sans, sans-serif" fill="#000" stroke="#000" stroke-width="0.25" font-size="14">
<text><tspan x="469.0" y="85.9" font-style="italic">π</tspan><tspan x="479.3" y="82.0" font-size="10">+</tspan><tspan x="498.5" y="85.9" font-style="italic">μ</tspan><tspan x="505.9" y="85.9">+</tspan><tspan x="514.4" y="85.9">HNL</tspan></text>
<path d="M486.50 82.40 H496.30 M492.80 79.30 Q494.30 81.60 496.70 82.40 Q494.30 83.20 492.80 85.50" fill="none" stroke="#000" stroke-width="1.2" stroke-linecap="round" stroke-linejoin="round"/>
<text><tspan x="469.1" y="109.5" font-style="italic">K</tspan><tspan x="478.7" y="105.1" font-size="10">+</tspan><tspan x="497.7" y="109.5" font-style="italic">μ</tspan><tspan x="505.2" y="109.5">+</tspan><tspan x="513.4" y="109.5">HNL</tspan></text>
<path d="M485.60 106.10 H495.50 M492.00 103.00 Q493.50 105.30 495.90 106.10 Q493.50 106.90 492.00 109.20" fill="none" stroke="#000" stroke-width="1.2" stroke-linecap="round" stroke-linejoin="round"/>
<text><tspan x="469.1" y="134.7" font-style="italic">K</tspan><tspan x="478.8" y="130.8" font-size="10">+</tspan><tspan x="496.9" y="134.7" font-style="italic">π</tspan><tspan x="507.2" y="130.8" font-size="10">0</tspan><tspan x="513.8" y="134.7">+</tspan><tspan x="523.3" y="134.7" font-style="italic">μ</tspan><tspan x="530.6" y="134.7">+</tspan><tspan x="539.2" y="134.7">HNL</tspan></text>
<path d="M485.40 131.30 H495.60 M492.10 128.20 Q493.60 130.50 496.00 131.30 Q493.60 132.10 492.10 134.40" fill="none" stroke="#000" stroke-width="1.2" stroke-linecap="round" stroke-linejoin="round"/>
<text><tspan x="469.1" y="160.5" font-style="italic">K</tspan><tspan x="478.8" y="156.6" font-size="10">0</tspan><tspan x="477.9" y="164.7" font-style="italic" font-size="10">L</tspan><tspan x="497.2" y="160.5" font-style="italic">π</tspan><tspan x="507.5" y="156.6" font-size="10">−</tspan><tspan x="513.8" y="160.5">+</tspan><tspan x="523.4" y="160.5" font-style="italic">μ</tspan><tspan x="530.7" y="160.5">+</tspan><tspan x="539.2" y="160.5">HNL</tspan></text>
<path d="M485.10 157.00 H495.10 M491.60 153.90 Q493.10 156.20 495.50 157.00 Q493.10 157.80 491.60 160.10" fill="none" stroke="#000" stroke-width="1.2" stroke-linecap="round" stroke-linejoin="round"/>
<text><tspan x="469.1" y="187.1" font-style="italic">K</tspan><tspan x="478.8" y="183.2" font-size="10">0</tspan><tspan x="478.6" y="191.3" font-style="italic" font-size="10">S</tspan><tspan x="497.9" y="187.1" font-style="italic">π</tspan><tspan x="508.1" y="183.2" font-size="10">−</tspan><tspan x="514.7" y="187.1">+</tspan><tspan x="524.3" y="187.1" font-style="italic">μ</tspan><tspan x="531.6" y="187.1">+</tspan><tspan x="540.1" y="187.1">HNL</tspan></text>
<path d="M486.20 183.70 H496.00 M492.50 180.60 Q494.00 182.90 496.40 183.70 Q494.00 184.50 492.50 186.80" fill="none" stroke="#000" stroke-width="1.2" stroke-linecap="round" stroke-linejoin="round"/>
</g>
</svg>
</body></html>
